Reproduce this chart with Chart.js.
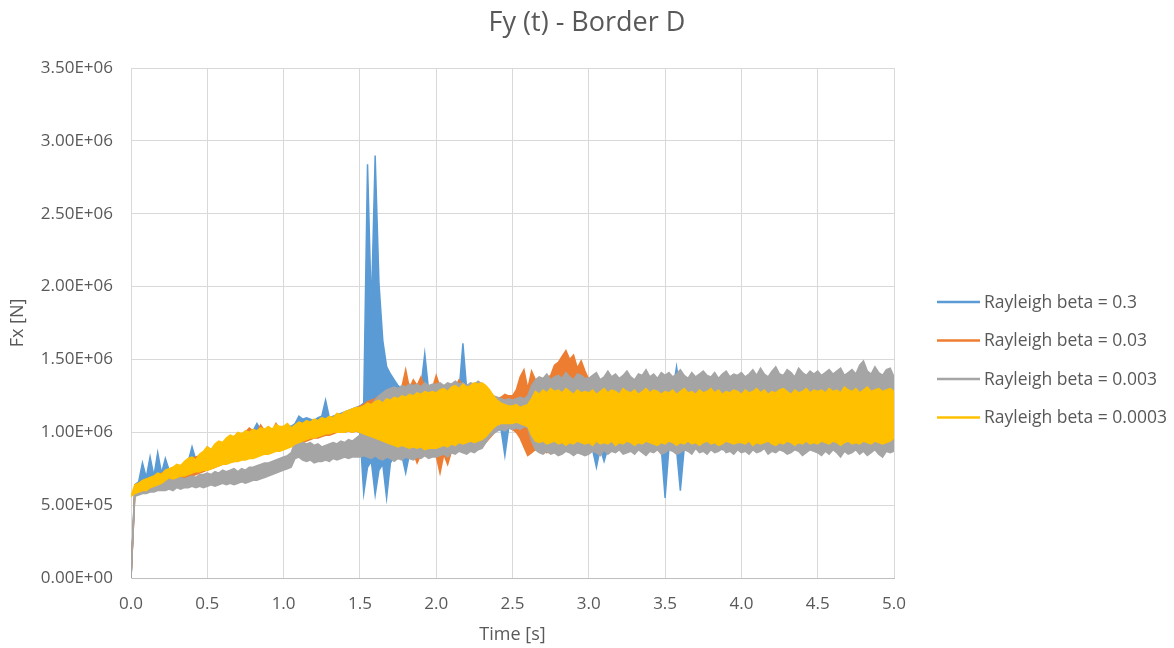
<!DOCTYPE html>
<html lang="en">
<head>
    <meta charset="UTF-8">
    <title>Fy (t) - Border D</title>
    <script src="https://cdn.jsdelivr.net/npm/chart.js"></script>
    <style>
        body {
            margin: 0;
            background-color: #ffffff;
        }

        #wrap {
            width: 1174px;
            height: 648px;
        }
    </style>
</head>
<body>

<div id="wrap">
    <canvas id="forceChart"></canvas>
</div>

<script>
    // sample times [s]
    var times = [
        0, 0.025, 0.05, 0.075, 0.1, 0.125, 0.15, 0.175, 0.2, 0.225, 0.25, 0.275, 0.3, 0.325, 0.35, 0.375, 0.4, 0.425, 0.45, 0.475,
        0.5, 0.525, 0.55, 0.575, 0.6, 0.625, 0.65, 0.675, 0.7, 0.725, 0.75, 0.775, 0.8, 0.825, 0.85, 0.875, 0.9, 0.925, 0.95, 0.975,
        1, 1.025, 1.05, 1.075, 1.1, 1.125, 1.15, 1.175, 1.2, 1.225, 1.25, 1.275, 1.3, 1.325, 1.35, 1.375, 1.4, 1.425, 1.45, 1.475,
        1.5, 1.525, 1.55, 1.575, 1.6, 1.625, 1.65, 1.675, 1.7, 1.725, 1.75, 1.775, 1.8, 1.825, 1.85, 1.875, 1.9, 1.925, 1.95, 1.975,
        2, 2.025, 2.05, 2.075, 2.1, 2.125, 2.15, 2.175, 2.2, 2.225, 2.25, 2.275, 2.3, 2.325, 2.35, 2.375, 2.4, 2.425, 2.45, 2.475,
        2.5, 2.525, 2.55, 2.575, 2.6, 2.625, 2.65, 2.675, 2.7, 2.725, 2.75, 2.775, 2.8, 2.825, 2.85, 2.875, 2.9, 2.925, 2.95, 2.975,
        3, 3.025, 3.05, 3.075, 3.1, 3.125, 3.15, 3.175, 3.2, 3.225, 3.25, 3.275, 3.3, 3.325, 3.35, 3.375, 3.4, 3.425, 3.45, 3.475,
        3.5, 3.525, 3.55, 3.575, 3.6, 3.625, 3.65, 3.675, 3.7, 3.725, 3.75, 3.775, 3.8, 3.825, 3.85, 3.875, 3.9, 3.925, 3.95, 3.975,
        4, 4.025, 4.05, 4.075, 4.1, 4.125, 4.15, 4.175, 4.2, 4.225, 4.25, 4.275, 4.3, 4.325, 4.35, 4.375, 4.4, 4.425, 4.45, 4.475,
        4.5, 4.525, 4.55, 4.575, 4.6, 4.625, 4.65, 4.675, 4.7, 4.725, 4.75, 4.775, 4.8, 4.825, 4.85, 4.875, 4.9, 4.925, 4.95, 4.975,
        5
    ];

    // forces in units of 1E+05 N.
    // each run oscillates fast, so it is kept as the upper and lower edge of its band
    var beta03Upper = [
        0.0, 6.4, 6.6, 7.9, 6.9, 8.3, 7.0, 8.6, 7.2, 8.2, 7.4, 7.5, 7.6, 7.7, 7.9, 8.0, 9.0, 8.1, 8.4, 8.6,
        9.0, 8.8, 9.1, 9.3, 9.2, 9.5, 9.7, 9.6, 9.9, 9.8, 10.0, 10.0, 10.1, 10.6, 10.2, 10.2, 10.3, 10.2, 10.4, 10.3,
        10.4, 10.5, 10.4, 10.6, 11.1, 10.9, 11.0, 10.9, 10.8, 11.0, 11.1, 12.2, 11.0, 11.1, 11.2, 11.3, 11.4, 11.5, 11.6, 11.7,
        11.8, 12.0, 28.4, 18.4, 29.0, 20.2, 16.3, 14.5, 14.0, 13.6, 13.2, 13.0, 12.8, 12.9, 13.0, 12.8, 13.1, 15.4, 12.9, 13.0,
        12.9, 13.0, 12.8, 13.1, 12.9, 13.0, 12.8, 16.1, 12.9, 13.0, 12.8, 12.9, 13.0, 12.7, 12.5, 12.3, 12.1, 12.0, 11.9, 11.8,
        11.8, 11.9, 11.8, 11.7, 11.9, 12.4, 12.7, 12.6, 12.8, 12.6, 12.7, 12.8, 12.6, 12.7, 12.9, 12.6, 12.8, 12.7, 12.6, 12.8,
        12.7, 12.8, 12.6, 12.7, 12.9, 12.6, 12.8, 12.7, 12.6, 12.8, 12.7, 12.6, 12.8, 12.5, 12.7, 12.8, 12.6, 12.7, 12.8, 12.6,
        12.7, 12.6, 12.8, 14.5, 12.7, 12.6, 12.8, 12.7, 12.6, 12.8, 12.7, 12.5, 12.8, 12.6, 12.7, 12.8, 12.6, 12.7, 12.6, 12.8,
        12.6, 12.8, 12.7, 12.6, 12.8, 12.7, 12.5, 12.7, 12.8, 12.6, 12.7, 12.8, 12.6, 12.7, 12.5, 12.8, 12.7, 12.6, 12.8, 12.7,
        12.8, 12.6, 12.7, 12.9, 12.7, 12.8, 12.6, 12.9, 12.7, 12.8, 12.9, 12.6, 12.8, 12.7, 12.9, 12.8, 12.7, 12.8, 12.9, 12.7,
        12.5
    ];
    var beta03Lower = [
        0.0, 5.9, 6.0, 6.2, 6.4, 6.6, 6.7, 6.8, 6.9, 7.0, 7.0, 7.1, 7.2, 7.2, 7.3, 7.3, 7.4, 7.4, 7.5, 7.5,
        7.6, 7.7, 7.8, 7.8, 7.9, 8.0, 8.0, 8.1, 8.2, 8.2, 8.3, 8.4, 8.4, 8.5, 8.6, 8.6, 8.7, 8.8, 8.8, 8.9,
        9.0, 9.1, 9.2, 9.3, 9.4, 9.5, 9.5, 9.6, 9.7, 9.8, 9.8, 9.9, 10.0, 10.0, 10.1, 10.1, 10.1, 10.2, 10.2, 10.1,
        10.0, 5.8, 7.6, 8.0, 5.7, 7.4, 7.8, 5.5, 7.9, 8.3, 8.2, 8.4, 7.2, 8.5, 8.4, 8.6, 8.5, 8.7, 8.6, 8.7,
        8.8, 8.7, 8.9, 8.8, 9.0, 8.9, 9.1, 9.0, 9.1, 9.2, 9.1, 9.2, 9.3, 9.5, 9.8, 10.0, 10.1, 10.2, 8.4, 10.3,
        10.3, 10.4, 10.3, 10.2, 10.1, 9.5, 9.1, 8.9, 9.0, 8.8, 8.9, 9.0, 8.8, 8.9, 8.7, 8.9, 8.8, 8.9, 9.0, 8.8,
        8.9, 8.8, 7.6, 8.9, 8.0, 8.9, 9.0, 8.8, 8.9, 9.0, 8.8, 8.9, 9.0, 8.8, 8.9, 9.0, 8.8, 8.9, 9.0, 8.9,
        5.5, 8.9, 9.0, 8.8, 6.0, 8.9, 9.0, 8.8, 8.9, 9.0, 8.8, 8.9, 9.0, 8.8, 8.9, 8.8, 9.0, 8.9, 8.8, 9.0,
        8.9, 9.0, 8.8, 8.9, 9.0, 8.8, 8.9, 9.0, 8.9, 8.8, 9.0, 8.9, 8.8, 9.0, 8.9, 8.8, 9.0, 8.9, 9.0, 8.8,
        8.9, 9.0, 8.8, 8.9, 9.0, 8.9, 8.8, 9.0, 8.9, 8.8, 9.0, 8.9, 9.0, 8.8, 8.9, 9.0, 8.8, 8.9, 9.0, 8.9,
        9.0
    ];
    var beta003Upper = [
        0.0, 6.0, 6.2, 6.4, 6.6, 6.8, 6.9, 7.0, 7.2, 7.3, 7.4, 7.5, 7.6, 7.7, 7.9, 8.0, 8.2, 8.3, 8.4, 8.6,
        8.7, 8.7, 9.0, 9.2, 9.2, 9.4, 9.6, 9.6, 9.9, 9.8, 10.0, 10.3, 10.1, 10.0, 10.5, 10.1, 10.3, 10.1, 10.6, 10.2,
        10.3, 10.5, 10.2, 10.4, 10.6, 10.5, 10.7, 10.6, 10.8, 10.7, 10.9, 10.8, 11.0, 10.9, 11.2, 11.1, 11.3, 11.4, 11.5, 11.6,
        11.8, 11.9, 12.1, 12.2, 12.3, 12.5, 12.6, 12.8, 12.9, 13.0, 12.9, 13.1, 14.3, 13.0, 13.6, 13.2, 13.8, 13.1, 13.2, 13.0,
        13.9, 13.1, 13.2, 13.0, 13.2, 13.1, 13.6, 13.2, 13.1, 13.3, 13.0, 13.2, 13.1, 12.9, 12.6, 12.5, 12.3, 12.4, 12.6, 12.5,
        12.5, 12.9, 13.8, 14.3, 13.0, 14.2, 13.6, 13.4, 13.5, 13.7, 13.9, 14.6, 14.8, 15.2, 15.6, 15.0, 15.3, 14.4, 14.9, 14.2,
        13.6, 13.8, 13.9, 13.5, 13.7, 14.0, 13.6, 13.8, 13.5, 13.7, 13.9, 13.6, 13.4, 13.8, 13.6, 13.9, 13.5, 13.6, 13.4, 13.5,
        13.3, 13.4, 13.2, 13.5, 13.3, 13.4, 13.2, 13.3, 13.5, 13.2, 13.4, 13.3, 13.2, 13.4, 13.3, 13.5, 13.2, 13.3, 13.4, 13.2,
        13.4, 13.3, 13.5, 13.2, 13.4, 13.3, 13.5, 13.2, 13.3, 13.4, 13.2, 13.5, 13.3, 13.4, 13.2, 13.3, 13.5, 13.4, 13.2, 13.3,
        13.5, 13.3, 13.4, 13.2, 13.5, 13.3, 13.4, 13.2, 13.3, 13.5, 13.4, 13.2, 13.3, 13.5, 13.4, 13.3, 13.2, 13.4, 13.5, 13.3,
        13.0
    ];
    var beta003Lower = [
        0.0, 5.7, 5.9, 6.1, 6.3, 6.4, 6.5, 6.5, 6.6, 6.6, 6.7, 6.6, 6.5, 6.7, 6.8, 6.9, 7.0, 7.1, 7.2, 7.3,
        7.4, 7.5, 7.6, 7.7, 7.8, 7.9, 8.0, 8.0, 8.1, 8.2, 8.2, 8.3, 8.4, 8.4, 8.5, 8.6, 8.6, 8.7, 8.8, 8.8,
        8.9, 9.0, 9.1, 9.2, 9.3, 9.3, 9.4, 9.5, 9.6, 9.6, 9.7, 9.8, 9.8, 9.9, 10.0, 10.0, 10.0, 10.1, 10.0, 10.1,
        10.0, 9.8, 9.6, 9.4, 9.2, 9.0, 8.9, 8.8, 8.9, 8.7, 8.8, 8.6, 8.7, 8.8, 8.6, 7.9, 8.5, 8.6, 8.7, 8.5,
        8.4, 7.2, 8.5, 7.8, 8.7, 8.6, 8.8, 8.7, 8.9, 8.8, 9.0, 8.9, 9.1, 9.3, 9.6, 9.9, 10.2, 10.3, 10.2, 10.3,
        10.2, 10.0, 9.6, 9.0, 8.4, 8.6, 8.8, 8.7, 8.9, 8.6, 8.8, 8.7, 8.9, 8.6, 8.8, 8.7, 8.9, 8.8, 8.6, 8.8,
        8.8, 8.9, 9.0, 8.8, 8.9, 9.1, 8.8, 9.0, 8.9, 8.8, 9.0, 8.9, 9.1, 8.8, 8.9, 9.0, 8.8, 8.9, 9.0, 8.9,
        9.0, 8.8, 8.9, 9.1, 8.9, 9.0, 8.8, 8.9, 9.0, 8.8, 8.9, 9.1, 8.9, 9.0, 8.8, 8.9, 9.0, 8.9, 8.8, 9.0,
        8.9, 9.0, 8.8, 8.9, 9.1, 8.9, 9.0, 8.8, 8.9, 9.0, 8.9, 8.8, 9.0, 8.9, 9.1, 8.8, 8.9, 9.0, 8.9, 8.8,
        9.0, 8.9, 8.8, 9.0, 8.9, 9.1, 8.9, 8.8, 9.0, 8.9, 8.8, 9.0, 8.9, 9.1, 8.8, 8.9, 9.0, 8.8, 8.9, 9.0,
        9.0
    ];
    var beta0003Upper = [
        0.0, 6.2, 6.2, 6.3, 6.4, 6.4, 6.5, 6.6, 6.6, 6.7, 6.8, 6.7, 6.8, 6.9, 6.8, 6.9, 7.0, 6.9, 7.1, 7.1,
        7.2, 7.1, 7.3, 7.2, 7.4, 7.3, 7.4, 7.5, 7.3, 7.5, 7.4, 7.6, 7.6, 7.7, 7.8, 7.9, 7.9, 8.0, 8.1, 8.2,
        8.3, 8.4, 8.6, 9.4, 9.5, 9.3, 9.2, 9.3, 9.1, 9.2, 9.0, 9.1, 9.2, 9.3, 9.2, 9.4, 9.3, 9.5, 9.4, 9.6,
        9.8, 10.5, 11.2, 11.8, 12.2, 12.5, 12.7, 12.9, 13.0, 13.1, 13.0, 13.2, 13.1, 13.3, 13.2, 13.3, 13.1, 13.4, 13.2, 13.3,
        13.3, 13.4, 13.2, 13.4, 13.3, 13.5, 13.3, 13.4, 13.2, 13.4, 13.3, 13.5, 13.3, 13.1, 12.8, 12.5, 12.4, 12.3, 12.2, 12.3,
        12.2, 12.3, 12.4, 12.3, 12.5, 13.2, 13.6, 13.8, 13.7, 14.0, 13.6, 13.8, 13.9, 13.7, 14.1, 13.8, 13.6, 14.0, 13.9, 13.7,
        13.7, 13.9, 14.1, 13.6, 13.8, 14.2, 13.8, 14.0, 13.7, 13.9, 14.2, 13.8, 13.6, 14.0, 13.9, 14.3, 13.8, 14.0, 13.7, 14.1,
        13.9, 14.1, 13.8, 14.0, 14.3, 13.9, 13.7, 14.1, 13.8, 14.0, 14.2, 13.9, 13.8, 14.1, 13.7, 14.0, 14.2, 13.8, 14.0, 13.9,
        14.1, 13.8, 14.0, 14.3, 13.9, 14.4, 14.0, 13.8, 14.2, 14.5, 14.0, 13.9, 14.3, 14.1, 13.8, 14.4, 14.1, 13.9, 14.2, 14.0,
        14.2, 13.9, 14.1, 14.3, 14.0, 14.2, 14.4, 13.9, 14.1, 14.3, 14.0, 14.6, 14.9, 14.2, 14.0, 14.5, 14.1, 13.9, 14.3, 14.4,
        13.8
    ];
    var beta0003Lower = [
        0.0, 5.6, 5.7, 5.8, 5.8, 5.9, 5.9, 6.0, 6.0, 6.0, 6.1, 6.0, 6.2, 6.1, 6.2, 6.2, 6.3, 6.2, 6.3, 6.2,
        6.3, 6.4, 6.3, 6.4, 6.5, 6.4, 6.5, 6.4, 6.5, 6.6, 6.5, 6.6, 6.7, 6.7, 6.8, 6.9, 7.0, 7.1, 7.2, 7.3,
        7.4, 7.5, 7.6, 8.2, 8.3, 8.1, 8.0, 8.1, 7.9, 8.0, 8.0, 8.1, 8.0, 8.2, 8.1, 8.2, 8.3, 8.2, 8.3, 8.3,
        8.3, 8.4, 8.3, 8.2, 8.4, 8.2, 8.1, 8.3, 8.2, 8.0, 8.2, 8.1, 8.3, 8.2, 8.1, 8.3, 8.2, 8.4, 8.2, 8.3,
        8.3, 8.4, 8.5, 8.3, 8.6, 8.5, 8.7, 8.6, 8.5, 8.7, 8.6, 8.8, 8.9, 9.3, 9.7, 9.9, 10.1, 10.2, 10.1, 10.3,
        10.2, 10.3, 10.2, 10.4, 10.3, 9.4, 8.8, 8.6, 8.5, 8.7, 8.5, 8.6, 8.4, 8.5, 8.7, 8.6, 8.4, 8.6, 8.5, 8.4,
        8.5, 8.7, 8.6, 8.4, 8.8, 8.5, 8.7, 8.6, 8.8, 8.5, 8.6, 8.7, 8.5, 8.8, 8.6, 8.4, 8.7, 8.6, 8.8, 8.5,
        8.6, 8.8, 8.7, 8.5, 8.6, 8.8, 8.7, 8.5, 8.9, 8.6, 8.7, 8.5, 8.8, 8.6, 8.7, 8.9, 8.6, 8.7, 8.5, 8.8,
        8.6, 8.7, 8.5, 8.8, 8.6, 8.7, 8.9, 8.5, 8.7, 8.6, 8.8, 8.7, 8.5, 8.6, 8.8, 8.7, 8.4, 8.6, 8.8, 8.7,
        8.6, 8.4, 8.7, 8.5, 8.8, 8.6, 8.3, 8.7, 8.5, 8.6, 8.8, 8.5, 8.7, 8.4, 8.6, 8.8, 8.5, 8.3, 8.7, 8.6,
        8.7
    ];
    var beta00003Upper = [
        5.6, 6.4, 6.5, 6.7, 6.8, 6.9, 7.0, 7.2, 7.1, 7.4, 7.5, 7.6, 7.8, 7.7, 8.0, 8.2, 8.3, 8.1, 8.5, 8.7,
        9.0, 8.8, 9.2, 9.4, 9.3, 9.6, 9.8, 9.7, 10.0, 9.9, 10.1, 10.0, 10.2, 10.1, 10.3, 10.2, 10.4, 10.2, 10.5, 10.4,
        10.4, 10.6, 10.3, 10.5, 10.7, 10.6, 10.8, 10.7, 10.9, 10.8, 11.0, 10.9, 11.1, 11.0, 11.3, 11.2, 11.4, 11.5, 11.6, 11.7,
        11.7, 11.8, 12.0, 11.9, 12.1, 12.2, 12.0, 12.3, 12.2, 12.4, 12.3, 12.5, 12.4, 12.6, 12.5, 12.7, 12.6, 12.8, 12.7, 12.8,
        12.7, 12.9, 13.0, 12.8, 13.1, 13.2, 13.0, 13.3, 13.1, 13.2, 13.4, 13.3, 13.4, 13.2, 12.9, 12.5, 12.2, 12.0, 11.9, 11.8,
        11.8, 11.9, 11.7, 11.8, 11.9, 12.3, 12.8, 12.6, 12.9, 12.7, 13.0, 12.8, 12.9, 12.7, 13.0, 12.8, 12.6, 12.9, 12.7, 12.8,
        12.7, 12.9, 12.6, 12.8, 13.0, 12.7, 12.9, 12.8, 12.6, 13.0, 12.8, 12.7, 12.9, 12.6, 12.8, 13.0, 12.7, 12.9, 12.8, 12.6,
        12.8, 12.7, 12.9, 12.6, 12.8, 13.0, 12.7, 12.8, 12.6, 12.9, 12.7, 12.8, 13.0, 12.7, 12.9, 12.6, 12.8, 12.7, 12.9, 12.8,
        12.6, 12.9, 12.7, 12.8, 13.0, 12.7, 12.9, 12.6, 12.8, 12.7, 12.9, 13.0, 12.8, 12.6, 12.9, 12.7, 12.8, 13.0, 12.7, 12.9,
        12.8, 12.9, 12.7, 13.0, 12.8, 12.9, 12.7, 13.1, 12.9, 12.8, 13.0, 12.7, 12.9, 13.1, 12.8, 12.9, 13.0, 12.8, 12.9, 13.0,
        12.8
    ];
    var beta00003Lower = [
        5.6, 5.8, 5.9, 6.0, 6.0, 6.2, 6.3, 6.4, 6.5, 6.7, 6.9, 6.8, 6.9, 7.0, 7.0, 7.1, 7.2, 7.3, 7.3, 7.4,
        7.4, 7.5, 7.6, 7.7, 7.8, 7.8, 7.9, 8.0, 8.0, 8.1, 8.1, 8.2, 8.2, 8.3, 8.4, 8.5, 8.5, 8.6, 8.7, 8.7,
        8.8, 8.9, 9.0, 9.2, 9.3, 9.4, 9.5, 9.6, 9.6, 9.7, 9.8, 9.9, 9.9, 10.0, 10.0, 10.0, 10.0, 10.1, 10.0, 10.1,
        10.0, 9.9, 9.8, 9.7, 9.6, 9.5, 9.4, 9.3, 9.2, 9.1, 9.0, 9.1, 9.0, 8.9, 9.0, 8.9, 9.0, 8.8, 8.9, 8.9,
        8.9, 9.0, 9.1, 9.0, 9.2, 9.1, 9.3, 9.2, 9.3, 9.4, 9.3, 9.4, 9.5, 9.7, 10.0, 10.3, 10.5, 10.6, 10.6, 10.6,
        10.6, 10.7, 10.6, 10.5, 10.4, 9.8, 9.4, 9.3, 9.4, 9.2, 9.3, 9.4, 9.2, 9.3, 9.1, 9.3, 9.2, 9.4, 9.3, 9.2,
        9.3, 9.1, 9.4, 9.2, 9.3, 9.2, 9.4, 9.1, 9.3, 9.2, 9.4, 9.3, 9.1, 9.3, 9.2, 9.4, 9.3, 9.2, 9.1, 9.3,
        9.2, 9.4, 9.3, 9.1, 9.3, 9.2, 9.4, 9.2, 9.3, 9.1, 9.3, 9.4, 9.2, 9.3, 9.1, 9.2, 9.4, 9.3, 9.2, 9.3,
        9.3, 9.2, 9.4, 9.1, 9.3, 9.2, 9.3, 9.4, 9.2, 9.1, 9.3, 9.2, 9.4, 9.3, 9.1, 9.3, 9.2, 9.4, 9.2, 9.3,
        9.2, 9.4, 9.3, 9.2, 9.4, 9.3, 9.1, 9.3, 9.4, 9.2, 9.3, 9.2, 9.4, 9.3, 9.2, 9.4, 9.3, 9.2, 9.3, 9.4,
        9.6
    ];

    var seriesNames = ['Rayleigh beta = 0.3', 'Rayleigh beta = 0.03', 'Rayleigh beta = 0.003', 'Rayleigh beta = 0.0003'];
    var seriesColors = ['#5B9BD5', '#ED7D31', '#A5A5A5', '#FFC000'];
    var yTicks = [0, 5e5, 1e6, 1.5e6, 2e6, 2.5e6, 3e6, 3.5e6];
    var UNIT = 1e5;
    var FONT = '"Open Sans", Lato, sans-serif';

    function toPoints(values) {
        return values.map(function (v, i) {
            return { x: times[i], y: v * UNIT };
        });
    }

    // Excel style 3.50E+06
    function sci(v) {
        if (v === 0) return '0.00E+00';
        var e = Math.floor(Math.log10(v) + 1e-9);
        var m = v / Math.pow(10, e);
        return m.toFixed(2) + 'E+' + String(e).padStart(2, '0');
    }

    var bands = [
        [beta03Lower, beta03Upper],
        [beta003Lower, beta003Upper],
        [beta0003Lower, beta0003Upper],
        [beta00003Lower, beta00003Upper]
    ];

    // lower edge, then upper edge filled down to it; later runs sit on top
    var datasets = [];
    bands.forEach(function (band, i) {
        datasets.push({
            label: seriesNames[i] + ' (low)',
            data: toPoints(band[0]),
            yAxisID: 'y',
            borderColor: seriesColors[i],
            borderWidth: 1.5,
            pointRadius: 0,
            fill: false,
            order: 8 - 2 * i
        });
        datasets.push({
            label: seriesNames[i],
            data: toPoints(band[1]),
            yAxisID: 'y',
            borderColor: seriesColors[i],
            backgroundColor: seriesColors[i],
            borderWidth: 1.5,
            pointRadius: 0,
            fill: '-1',
            order: 7 - 2 * i
        });
    });

    // Excel-like legend on the right: short line + label
    var sideLegend = {
        id: 'sideLegend',
        afterDraw: function (chart) {
            var c = chart.ctx;
            var area = chart.chartArea;
            var x0 = area.right + 43;
            var y0 = 302;
            c.save();
            c.font = '17.5px ' + FONT;
            c.textBaseline = 'middle';
            c.fillStyle = '#595959';
            seriesNames.forEach(function (name, i) {
                var y = y0 + i * 38.5;
                c.strokeStyle = seriesColors[i];
                c.lineWidth = 2.5;
                c.beginPath();
                c.moveTo(x0, y);
                c.lineTo(x0 + 43, y);
                c.stroke();
                c.fillText(name, x0 + 47, y + 1);
            });
            c.restore();
        }
    };

    Chart.defaults.font.family = FONT;
    Chart.defaults.color = '#595959';

    var ctx = document.getElementById('forceChart').getContext('2d');
    var forceChart = new Chart(ctx, {
        type: 'line',
        data: { datasets: datasets },
        plugins: [sideLegend],
        options: {
            responsive: true,
            maintainAspectRatio: false,
            animation: false,
            layout: { padding: 0 },
            plugins: {
                title: {
                    display: true,
                    text: 'Fy (t) - Border D',
                    font: { size: 27, weight: 'normal' },
                    padding: { top: 7, bottom: 28.6 }
                },
                legend: { display: false },
                tooltip: { enabled: false }
            },
            scales: {
                x: {
                    type: 'linear',
                    min: 0,
                    max: 5,
                    afterFit: function (s) { s.height = 70; },
                    ticks: {
                        stepSize: 0.5,
                        padding: 16,
                        font: { size: 17 },
                        callback: function (v) { return v.toFixed(1); }
                    },
                    grid: { color: '#D9D9D9', drawTicks: false },
                    border: { color: '#BFBFBF' },
                    title: { display: true, text: 'Time [s]', font: { size: 18 }, padding: { top: 4, bottom: 2 } }
                },
                y: {
                    min: 0,
                    max: 3.5e6,
                    afterFit: function (s) { s.width = 131; },
                    afterBuildTicks: function (s) {
                        s.ticks = yTicks.map(function (v) { return { value: v }; });
                    },
                    ticks: {
                        padding: 18,
                        font: { size: 17 },
                        callback: function (v) { return sci(v); }
                    },
                    grid: { color: '#D9D9D9', drawTicks: false },
                    border: { color: '#D9D9D9' },
                    title: { display: true, text: 'Fx [N]', font: { size: 18 }, padding: { top: 7, bottom: 4 } }
                },
                // empty side axis that keeps room for the legend
                legendSpace: {
                    axis: 'y',
                    position: 'right',
                    afterFit: function (s) { s.width = 280; },
                    grid: { display: false },
                    ticks: { display: false },
                    border: { display: false }
                }
            }
        }
    });
</script>

</body>
</html>
